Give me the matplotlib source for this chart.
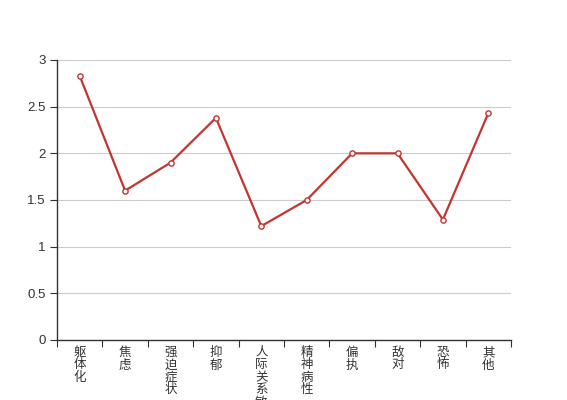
import matplotlib
matplotlib.use('Agg')
import matplotlib.pyplot as plt
import numpy as np

plt.rcParams['font.family'] = ['Liberation Sans', 'Noto Sans CJK SC', 'DejaVu Sans']

categories = ['躯体化', '焦虑', '强迫症状', '抑郁', '人际关系敏感', '精神病性', '偏执', '敌对', '恐怖', '其他']
values = [2.83, 1.60, 1.90, 2.38, 1.22, 1.50, 2.00, 2.00, 1.29, 2.43]
y_ticks = [0, 0.5, 1, 1.5, 2, 2.5, 3]

fig = plt.figure(figsize=(5.67, 4.0), dpi=100)
ax = fig.add_axes([57 / 567, 60 / 400, 454 / 567, 280 / 400])

x = np.arange(len(categories))
ax.plot(x, values, color='#c23531', linewidth=1.6, marker='o', markersize=3.8,
        markerfacecolor='white', markeredgecolor='#c23531', markeredgewidth=1, zorder=3)

ax.set_xlim(-0.5, len(categories) - 0.5)
ax.set_ylim(0, 3)
ax.set_yticks(y_ticks)
ax.set_yticklabels(['0', '0.5', '1', '1.5', '2', '2.5', '3'])
ax.grid(axis='y', color='#cccccc', linewidth=0.8)
ax.set_axisbelow(True)

# ticks between categories, labels at category centers
ax.set_xticks(np.arange(len(categories) + 1) - 0.5)
ax.set_xticklabels([])
ax.set_xticks(x, minor=True)
ax.set_xticklabels(['\n'.join(c) for c in categories], minor=True, va='top',
                   linespacing=1.05)
ax.tick_params(axis='x', which='minor', length=0, pad=5, labelsize=9, colors='#333333')
ax.tick_params(axis='x', which='major', length=5, color='#333333')
ax.tick_params(axis='y', length=5, color='#333333', labelsize=9.5, labelcolor='#333333', pad=3)

for s in ['top', 'right']:
    ax.spines[s].set_visible(False)
for s in ['left', 'bottom']:
    ax.spines[s].set_color('#333333')
    ax.spines[s].set_linewidth(1)

fig.savefig('out.png', dpi=100)
